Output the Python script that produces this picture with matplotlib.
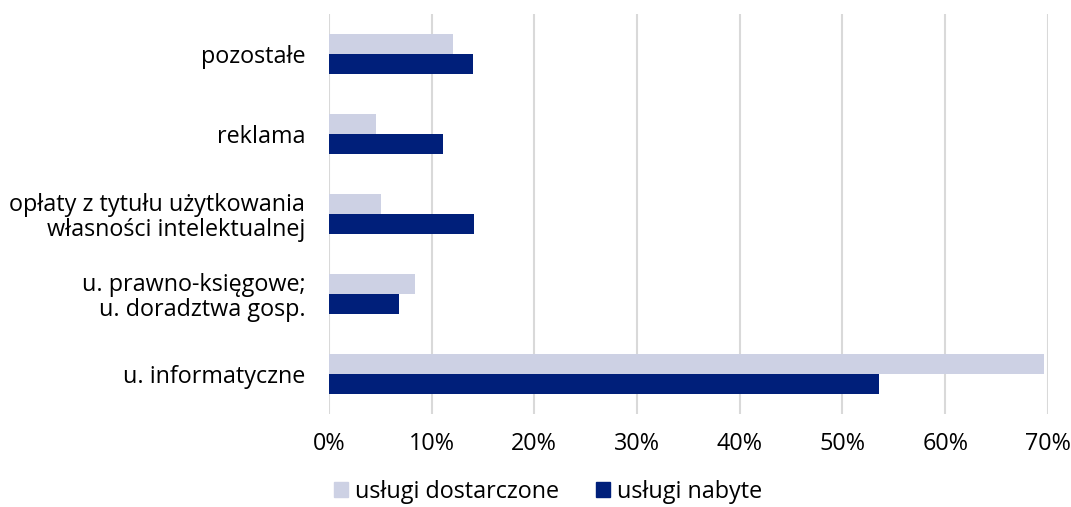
import numpy as np
import matplotlib
matplotlib.use('Agg')
import matplotlib.pyplot as plt
from matplotlib.patches import Patch

plt.rcParams['font.family'] = ['Open Sans', 'DejaVu Sans']

categories = ['u. informatyczne',
              'u. prawno-księgowe;\nu. doradztwa gosp.',
              'opłaty z tytułu użytkowania\nwłasności intelektualnej',
              'reklama',
              'pozostałe']
dostarczone = [69.6, 8.4, 5.1, 4.6, 12.1]
nabyte = [53.6, 6.8, 14.1, 11.1, 14.0]
series_names = ['usługi dostarczone', 'usługi nabyte']
colors = ['#cdd1e4', '#001f7a']

fig = plt.figure(figsize=(10.71, 5.07), dpi=100)
ax = fig.add_axes([0.307, 0.1834, 0.6715, 0.789])

y = np.arange(len(categories))
h = 0.25
ax.barh(y + h / 2, dostarczone, height=h, color=colors[0], zorder=3)
ax.barh(y - h / 2, nabyte, height=h, color=colors[1], zorder=3)

ax.set_xlim(0, 70)
ax.set_ylim(-0.5, 4.5)
ax.set_xticks(range(0, 71, 10))
ax.set_xticklabels([f'{v}%' for v in range(0, 71, 10)], fontsize=16.8)
ax.set_yticks(y)
ax.set_yticklabels(categories, fontsize=16.8, linespacing=1.05)
ax.tick_params(axis='y', length=0, pad=17)
ax.tick_params(axis='x', length=0, pad=13)
ax.xaxis.grid(True, color='#d9d9d9', linewidth=1.5, zorder=0)
ax.set_axisbelow(True)
for s in ax.spines.values():
    s.set_visible(False)

handles = [Patch(color=c, label=n) for c, n in zip(colors, series_names)]
fig.legend(handles=handles, loc='center', bbox_to_anchor=(0.512, 0.03),
           ncol=2, frameon=False, fontsize=16.8, handlelength=0.6,
           handleheight=0.6, handletextpad=0.3, columnspacing=1.6)

fig.savefig('out.png', dpi=100)
